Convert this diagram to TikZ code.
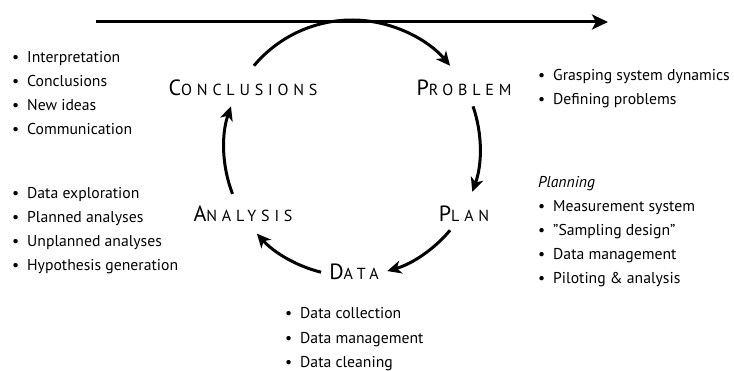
\documentclass[tikz,border=0pt]{standalone}
\usepackage{fontspec}
\setmainfont{PT Sans}
\newfontfamily\tfont[LetterSpace=30]{PT Sans}
\usetikzlibrary{arrows.meta}
\newcommand\bul{\makebox[15pt][l]{\textbullet}}
\newcommand\ttl[2]{{\tfont\fontsize{22}{22}\selectfont #1\fontsize{16}{16}\selectfont #2}}
\begin{document}
\begin{tikzpicture}[x=1pt,y=-1pt,
  cyc/.style={line width=3pt,-{Stealth[length=14pt,width=13pt,inset=4pt]}},
  mainarrow/.style={line width=3pt,-{Stealth[length=16pt,width=15pt,inset=4pt]}},
  title/.style={inner sep=0pt},
  lst/.style={align=left,anchor=base west,inner sep=0pt,font=\fontsize{15.7}{24}\selectfont}]
\useasboundingbox (0,0) rectangle (734,371);
\coordinate (c) at (352,148);
\coordinate (ts) at (96,22);
\coordinate (te) at (608,22);
\draw[mainarrow] (ts) -- (te);

\node[title] (conc) at (243,88) {\ttl{C}{ONCLUSIONS}};
\node[title] (prob) at (464,88) {\ttl{P}{ROBLEM}};
\node[title] (plan) at (464,214) {\ttl{P}{LAN}};
\node[title] (anal) at (243,214) {\ttl{A}{NALYSIS}};
\node[title] (data) at (354,272) {\ttl{D}{ATA}};

\draw[cyc] (c) ++(-140:128) arc[start angle=-140,end angle=-40,radius=128];
\draw[cyc] (c) ++(-19:128) arc[start angle=-19,end angle=20,radius=128];
\draw[cyc] (c) ++(40:128) arc[start angle=40,end angle=74,radius=128];
\draw[cyc] (c) ++(104:128) arc[start angle=104,end angle=138,radius=128];
\draw[cyc] (c) ++(159:128) arc[start angle=159,end angle=199,radius=128];

% anchor base west = baseline of the last line
\node[lst] (l1) at (12,135) {\bul Interpretation\\\bul Conclusions\\\bul New ideas\\\bul Communication};
\node[lst] (l2) at (12,271) {\bul Data exploration\\\bul Planned analyses\\\bul Unplanned analyses\\\bul Hypothesis generation};
\node[lst] (l3) at (538,105) {\bul Grasping system dynamics\\\bul Defining problems};
\node[lst] (l4) at (538,284) {\textit{Planning}\\\bul Measurement system\\\bul "Sampling design"\\\bul Data management\\\bul Piloting \& analysis};
\node[lst] (l5) at (285,367) {\bul Data collection\\\bul Data management\\\bul Data cleaning};
\end{tikzpicture}
\end{document}
